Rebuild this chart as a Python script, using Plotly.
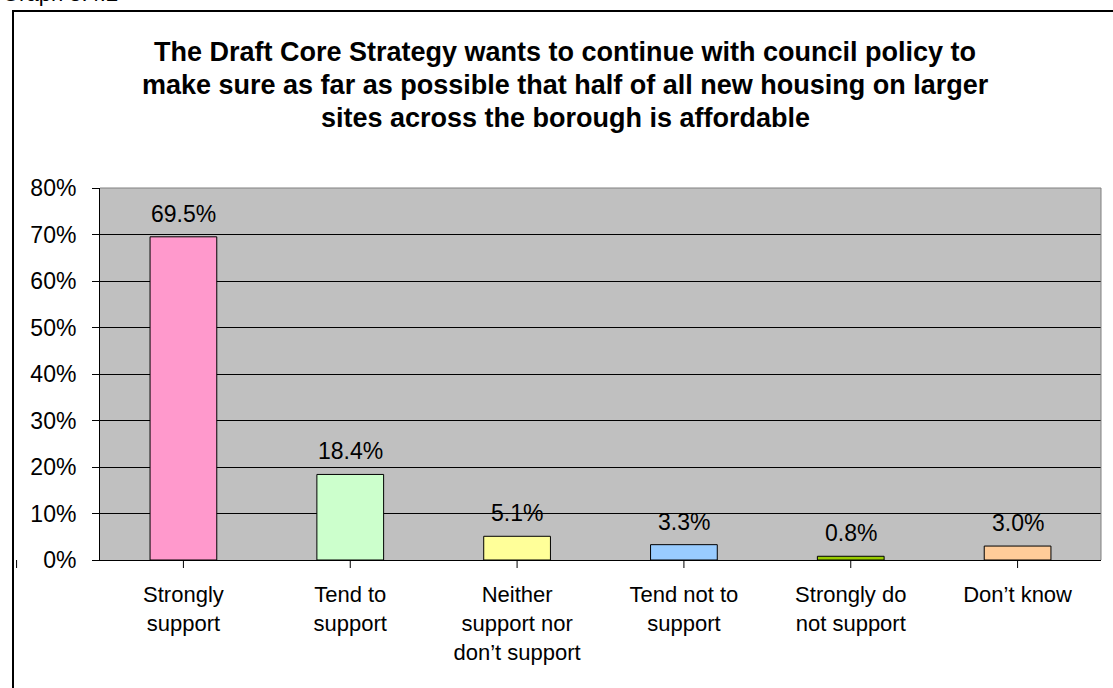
import plotly.graph_objects as go

categories = ["Strongly<br>support", "Tend to<br>support", "Neither<br>support nor<br>don’t support",
              "Tend not to<br>support", "Strongly do<br>not support", "Don’t know"]
values = [69.5, 18.4, 5.1, 3.3, 0.8, 3.0]
bar_colors = ["#FF99CC", "#CCFFCC", "#FFFF99", "#99CCFF", "#99CC00", "#FFCC99"]
y_ticks = [0, 10, 20, 30, 40, 50, 60, 70, 80]
y_tick_labels = [f"{v}%" for v in y_ticks]

title_lines = [
    "The Draft Core Strategy wants to continue with council policy to",
    "make sure as far as possible that half of all new housing on larger",
    "sites across the borough is affordable",
]

W, H = 1113, 688
L, R, T, B = 100, 12, 188, 128
pw, ph = W - L - R, H - T - B


def px_x(px):
    return (px - L) / pw


def px_y(py):
    return (H - B - py) / ph


FONT = "Liberation Sans, Arial, sans-serif"
LABEL_SIZE = 23
CAT_SIZE = 22

fig = go.Figure()
fig.add_trace(go.Bar(
    x=list(range(len(categories))),
    y=values,
    width=0.4,
    marker=dict(color=bar_colors, line=dict(color="#000000", width=1)),
    cliponaxis=False,
))

# value labels above each bar
for i, v in enumerate(values):
    fig.add_annotation(
        x=i, y=v, xref="x", yref="y", text=f"{v:.1f}%",
        showarrow=False, yanchor="bottom", yshift=8,
        font=dict(family=FONT, size=LABEL_SIZE, color="#000000"),
    )

fig.update_layout(
    width=W, height=H,
    margin=dict(l=L, r=R, t=T, b=B),
    paper_bgcolor="#FFFFFF",
    plot_bgcolor="#C0C0C0",
    showlegend=False,
    font=dict(family=FONT, size=LABEL_SIZE, color="#000000"),
    xaxis=dict(
        tickmode="array",
        tickvals=list(range(len(categories))),
        ticktext=categories,
        range=[-0.5, len(categories) - 0.5],
        showgrid=False,
        showline=True, linecolor="#000000", linewidth=1,
        ticks="", tickfont=dict(family=FONT, size=CAT_SIZE),
        ticklabelstandoff=15,
        zeroline=False,
    ),
    yaxis=dict(
        range=[0, 80],
        tickmode="array",
        tickvals=y_ticks,
        ticktext=y_tick_labels,
        showgrid=True, gridcolor="#000000", gridwidth=1,
        showline=True, linecolor="#000000", linewidth=1,
        ticks="outside", ticklen=7, tickcolor="#000000",
        tickfont=dict(family=FONT, size=LABEL_SIZE),
        ticklabelstandoff=11,
        zeroline=False,
    ),
)

# category separator tick marks below the x axis
for k in range(len(categories) + 1):
    xb = (k - 0.5) / len(categories)
    fig.add_shape(type="line", xref="paper", yref="paper",
                  x0=xb, x1=xb, y0=0, y1=px_y(H - B + 8),
                  line=dict(color="#000000", width=1))

# plot area outline (top and right)
fig.add_shape(type="line", xref="paper", yref="paper",
              x0=1, x1=1, y0=0, y1=1, line=dict(color="#808080", width=1))
fig.add_shape(type="line", xref="paper", yref="paper",
              x0=0, x1=1, y0=1, y1=1, line=dict(color="#808080", width=1))

# outer chart frame
fig.add_shape(type="path", xref="paper", yref="paper",
              path=f"M {px_x(13)} {px_y(700)} L {px_x(13)} {px_y(11)} L {px_x(1130)} {px_y(11)}",
              line=dict(color="#000000", width=2))

# chart title
for i, line in enumerate(title_lines):
    fig.add_annotation(
        text=f"<b>{line}</b>", xref="paper", yref="paper",
        x=px_x(565), y=px_y(52 + i * 33), xanchor="center", yanchor="middle",
        showarrow=False, font=dict(family=FONT, size=27, color="#000000"),
    )

# graph caption above the frame
fig.add_annotation(
    text="Graph 3.4.2", xref="paper", yref="paper",
    x=px_x(0), y=px_y(8), xanchor="left", yanchor="bottom",
    showarrow=False, font=dict(family=FONT, size=22, color="#000000"),
)

fig.write_html("out.html")
